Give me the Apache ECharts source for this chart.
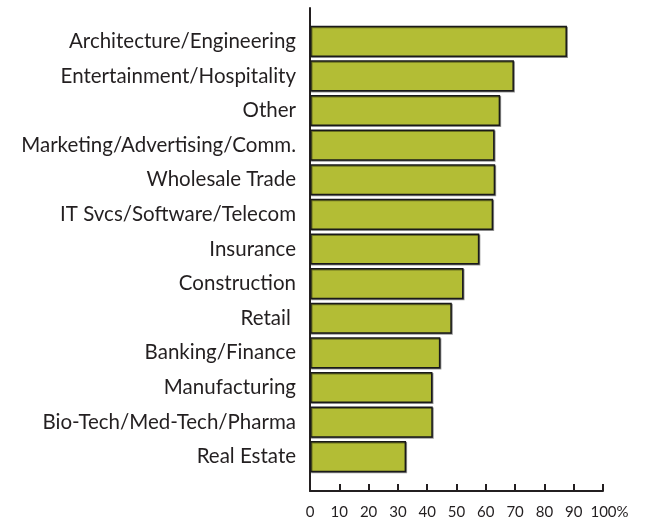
<!DOCTYPE html>
<html>
<head>
<meta charset="utf-8">
<script src="https://cdn.jsdelivr.net/npm/echarts@6/dist/echarts.min.js"></script>
<style>
  html, body { margin: 0; padding: 0; background: #ffffff; }
  #chart { width: 646px; height: 520px; }
</style>
</head>
<body>
<div id="chart"></div>
<script>
// Industry categories, listed top to bottom
const industries = [
  'Architecture/Engineering',
  'Entertainment/Hospitality',
  'Other',
  'Marketing/Advertising/Comm.',
  'Wholesale Trade',
  'IT Svcs/Software/Telecom',
  'Insurance',
  'Construction',
  'Retail ',
  'Banking/Finance',
  'Manufacturing',
  'Bio-Tech/Med-Tech/Pharma',
  'Real Estate'
];

// Share of respondents (%) per industry
const shares = [87.7, 69.6, 64.9, 63.0, 63.2, 62.5, 57.8, 52.4, 48.4, 44.5, 41.8, 41.9, 32.8];

// Scale of the percentage axis
const axisMin = 0;
const axisMax = 100;
const axisStep = 10;

const fontFamily = 'Lato, "Noto Sans", sans-serif';
const inkColor = '#231f20';
const barColor = '#b3bd35';

const chart = echarts.init(document.getElementById('chart'), null, { renderer: 'canvas' });

chart.setOption({
  animation: false,
  backgroundColor: '#ffffff',
  grid: [
    // bars
    { left: 310, width: 293, top: 24, height: 450, containLabel: false },
    // frame carrying the axis lines and the percentage scale
    { left: 310, width: 293, top: 8, height: 489, containLabel: false }
  ],
  xAxis: [
    {
      gridIndex: 0, type: 'value', min: axisMin, max: axisMax, interval: axisStep,
      show: false
    },
    {
      gridIndex: 1, type: 'value', min: axisMin, max: axisMax, interval: axisStep,
      axisLine: { show: true, onZero: false, lineStyle: { color: inkColor, width: 2 } },
      axisTick: { show: true, inside: true, length: 7, lineStyle: { color: inkColor, width: 2 } },
      splitLine: { show: false },
      axisLabel: {
        margin: 14,
        fontSize: 15,
        fontFamily: fontFamily,
        color: inkColor,
        formatter: v => (v === axisMax ? '{p|' + v + '%}' : String(v)),
        rich: { p: { fontSize: 15, fontFamily: fontFamily, color: inkColor, padding: [0, 0, 0, 13] } }
      }
    }
  ],
  yAxis: [
    {
      gridIndex: 0, type: 'category', data: industries, inverse: true,
      axisLine: { show: false },
      axisTick: { show: false },
      axisLabel: {
        margin: 14,
        fontSize: 20.5,
        fontFamily: fontFamily,
        color: inkColor
      }
    },
    {
      gridIndex: 1, type: 'value', min: 0, max: 1,
      axisLine: { show: true, lineStyle: { color: inkColor, width: 2 } },
      axisTick: { show: false },
      axisLabel: { show: false },
      splitLine: { show: false }
    }
  ],
  series: [
    {
      type: 'bar',
      xAxisIndex: 0,
      yAxisIndex: 0,
      data: shares,
      barCategoryGap: '10%',
      itemStyle: {
        color: barColor,
        borderColor: '#1a1a1a',
        borderWidth: 1.5,
        shadowColor: 'rgba(0,0,0,0.4)',
        shadowBlur: 0,
        shadowOffsetX: 1,
        shadowOffsetY: 1
      }
    }
  ]
});
</script>
</body>
</html>
